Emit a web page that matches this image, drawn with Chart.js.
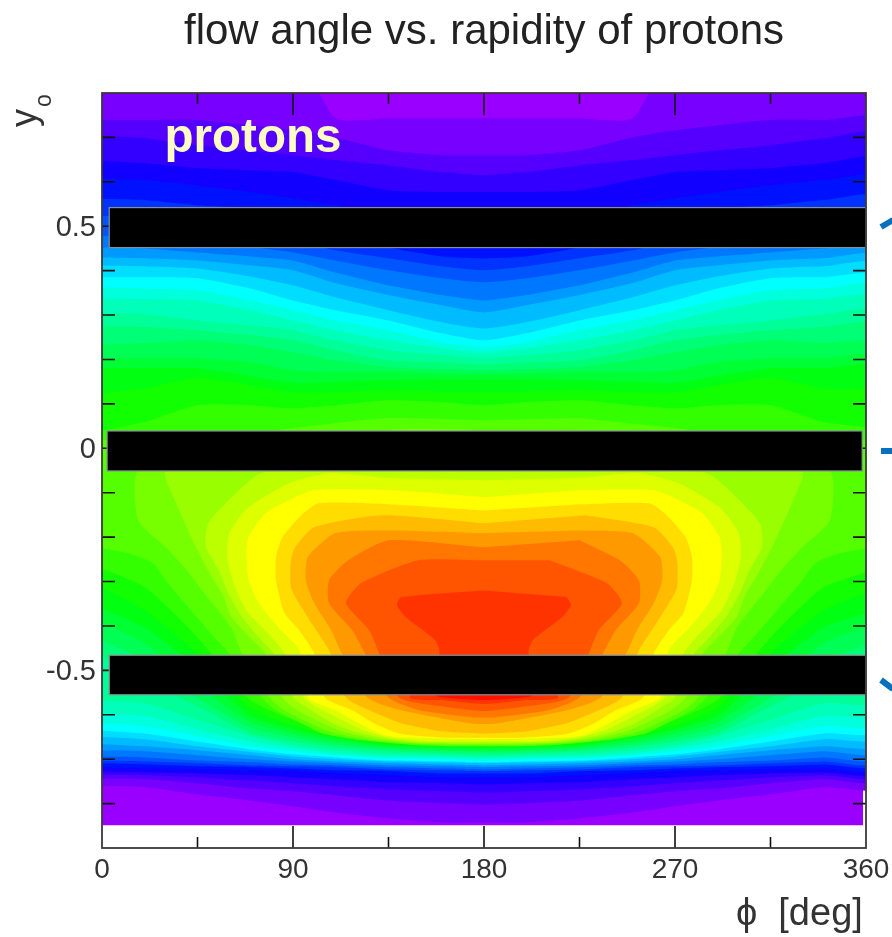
<!DOCTYPE html>
<html><head><meta charset="utf-8">
<style>html,body{margin:0;padding:0;background:#fff}canvas{display:block;filter:blur(0.6px)}</style>
<script src="https://cdn.jsdelivr.net/npm/chart.js@4"></script>
</head><body><canvas id="c" width="892" height="937"></canvas>
<script>
// Contour levels: y0 of the upper and lower edge of each "level >= n" region at phi (deg)
const phiCurve=[-10,20,45,70,90,110,135,160,180,200,225,250,270,290,315,340,370];
const upper01=[.829,.829,.829,.829,.9,.743,.743,.743,.743,.743,.743,.743,.9,.829,.829,.829,.829];
const lower01=[-.759,-.763,-.779,-.793,-.806,-.82,-.833,-.842,-.842,-.842,-.833,-.82,-.806,-.793,-.779,-.763,-.759];
const upper02=[.739,.739,.739,.727,.716,.7,.671,.66,.66,.66,.671,.7,.716,.727,.739,.739,.739];
const lower02=[-.743,-.745,-.754,-.766,-.772,-.781,-.793,-.799,-.802,-.799,-.793,-.781,-.772,-.766,-.754,-.745,-.743];
const upper03=[.705,.698,.682,.671,.66,.649,.637,.622,.615,.622,.637,.649,.66,.671,.682,.698,.705];
const lower03=[-.734,-.736,-.741,-.748,-.754,-.761,-.768,-.772,-.775,-.772,-.768,-.761,-.754,-.748,-.741,-.736,-.734];
const upper04=[.649,.642,.631,.626,.622,.604,.581,.577,.577,.577,.581,.604,.622,.626,.631,.642,.649];
const lower04=[-.727,-.73,-.732,-.736,-.741,-.745,-.752,-.754,-.757,-.754,-.752,-.745,-.741,-.736,-.732,-.73,-.727];
const upper05=[.608,.604,.592,.577,.563,.547,.525,.502,.48,.502,.525,.547,.563,.577,.592,.604,.608];
const lower05=[-.718,-.721,-.723,-.725,-.727,-.732,-.736,-.741,-.741,-.741,-.736,-.732,-.727,-.725,-.723,-.721,-.718];
const upper06=[.563,.559,.547,.541,.536,.502,.453,.432,.428,.432,.453,.502,.536,.541,.547,.559,.563];
const lower06=[-.709,-.712,-.716,-.718,-.721,-.725,-.727,-.732,-.732,-.732,-.727,-.725,-.721,-.718,-.716,-.712,-.709];
const upper07=[.525,.52,.514,.491,.468,.446,.428,.41,.401,.41,.428,.446,.468,.491,.514,.52,.525];
const lower07=[-.703,-.705,-.709,-.714,-.716,-.718,-.723,-.725,-.727,-.725,-.723,-.718,-.716,-.714,-.709,-.705,-.703];
const upper08=[.48,.475,.468,.453,.441,.423,.401,.383,.374,.383,.401,.423,.441,.453,.468,.475,.48];
const lower08=[-.694,-.696,-.703,-.707,-.712,-.714,-.718,-.721,-.723,-.721,-.718,-.714,-.712,-.707,-.703,-.696,-.694];
const upper09=[.453,.45,.441,.432,.423,.396,.367,.345,.333,.345,.367,.396,.423,.432,.441,.45,.453];
const lower09=[-.68,-.682,-.691,-.7,-.705,-.709,-.714,-.716,-.718,-.716,-.714,-.709,-.705,-.7,-.691,-.682,-.68];
const upper10=[.43,.428,.423,.412,.401,.372,.345,.322,.306,.322,.345,.372,.401,.412,.423,.428,.43];
const lower10=[-.664,-.671,-.68,-.691,-.7,-.705,-.709,-.712,-.714,-.712,-.709,-.705,-.7,-.691,-.68,-.671,-.664];
const upper11=[.412,.41,.405,.387,.367,.34,.311,.284,.27,.284,.311,.34,.367,.387,.405,.41,.412];
const lower11=[-.648,-.655,-.671,-.684,-.694,-.7,-.705,-.707,-.709,-.707,-.705,-.7,-.694,-.684,-.671,-.655,-.648];
const upper12=[.385,.385,.383,.36,.333,.311,.288,.259,.243,.259,.288,.311,.333,.36,.383,.385,.385];
const lower12=[-.633,-.642,-.66,-.678,-.689,-.696,-.703,-.705,-.707,-.705,-.703,-.696,-.689,-.678,-.66,-.642,-.633];
const upper13=[.363,.36,.356,.333,.311,.288,.266,.239,.228,.239,.266,.288,.311,.333,.356,.36,.363];
const lower13=[-.617,-.626,-.648,-.671,-.682,-.691,-.698,-.7,-.703,-.7,-.698,-.691,-.682,-.671,-.648,-.626,-.617];
const upper14=[.338,.336,.333,.311,.288,.266,.243,.225,.216,.225,.243,.266,.288,.311,.333,.336,.338];
const lower14=[-.594,-.603,-.633,-.66,-.675,-.687,-.694,-.696,-.698,-.696,-.694,-.687,-.675,-.66,-.633,-.603,-.594];
const upper15=[.306,.302,.288,.277,.266,.243,.221,.21,.203,.21,.221,.243,.266,.277,.288,.302,.306];
const lower15=[-.567,-.574,-.612,-.648,-.669,-.68,-.689,-.691,-.694,-.691,-.689,-.68,-.669,-.648,-.612,-.574,-.567];
const upper16=[.277,.273,.266,.255,.243,.221,.198,.194,.189,.194,.198,.221,.243,.255,.266,.273,.277];
const lower16=[-.443,-.522,-.581,-.642,-.66,-.673,-.682,-.687,-.689,-.687,-.682,-.673,-.66,-.642,-.581,-.522,-.443];
const upper17=[.232,.237,.243,.232,.216,.198,.183,.178,.176,.178,.183,.198,.216,.232,.243,.237,.232];
const lower17=[-.414,-.477,-.563,-.63,-.651,-.667,-.678,-.682,-.684,-.682,-.678,-.667,-.651,-.63,-.563,-.477,-.414];
const upper18=[.203,.203,.203,.194,.176,.171,.171,.169,.167,.169,.171,.171,.176,.194,.203,.203,.203];
const lower18=[-.369,-.439,-.534,-.617,-.642,-.66,-.673,-.678,-.68,-.678,-.673,-.66,-.642,-.617,-.534,-.439,-.369];
const upper19=[.18,.18,.18,.162,.147,.149,.153,.155,.155,.155,.153,.149,.147,.162,.18,.18,.18];
const lower19=[-.342,-.403,-.495,-.603,-.633,-.653,-.669,-.673,-.675,-.673,-.669,-.653,-.633,-.603,-.495,-.403,-.342];
const upper20=[.119,.135,.158,.142,.126,.126,.131,.128,.126,.128,.131,.126,.126,.142,.158,.135,.119];
const lower20=[-.29,-.365,-.462,-.585,-.624,-.648,-.664,-.67,-.671,-.67,-.664,-.648,-.624,-.585,-.462,-.365,-.29];
const upper21=[.029,.059,.097,.097,.09,.097,.108,.104,.097,.104,.108,.097,.09,.097,.097,.059,.029];
const lower21=[-.252,-.313,-.426,-.567,-.612,-.644,-.662,-.667,-.669,-.667,-.662,-.644,-.612,-.567,-.426,-.313,-.252];
// Closed contours of the central blob: phi and y0 of each vertex
const phi22=[180,135,90,45,-10,-10,12,24,31,42,53,60,75,82,94,104,122,150,180,210,238,256,266,278,285,300,307,318,329,336,348,370,370,315,270,225];
const y22=[.063,.068,.045,.018,.007,-.207,-.236,-.259,-.304,-.365,-.426,-.462,-.561,-.59,-.619,-.642,-.657,-.669,-.671,-.669,-.657,-.642,-.619,-.59,-.561,-.462,-.426,-.365,-.304,-.259,-.236,-.207,.007,.018,.045,.068];
const phi23=[180,135,90,60,17,17,30,40,49,61,66,79,86,97,108,126,150,180,210,234,252,263,274,281,294,299,311,320,330,343,343,300,270,225];
const y23=[.041,.041,-.016,-.045,-.052,-.162,-.223,-.275,-.331,-.405,-.462,-.561,-.59,-.617,-.639,-.657,-.666,-.669,-.666,-.657,-.639,-.617,-.59,-.561,-.462,-.405,-.331,-.275,-.223,-.162,-.052,-.045,-.016,.041];
const phi24=[180,135,100,60,30,35,42,50,57,61,71,77,85,92,103,113,130,150,180,210,230,247,257,268,275,283,289,299,303,310,318,325,330,300,260,225];
const y24=[-.004,.007,-.031,-.052,-.054,-.124,-.2,-.275,-.331,-.38,-.432,-.462,-.561,-.59,-.617,-.637,-.655,-.664,-.666,-.664,-.655,-.637,-.617,-.59,-.561,-.462,-.432,-.38,-.331,-.275,-.2,-.124,-.054,-.052,-.031,.007];
const phi25=[180,135,110,75,63,50,49,55,60,66,75,81,90,97,108,118,133,150,180,210,227,242,252,263,270,279,285,294,300,305,311,310,297,285,250,225];
const y25=[-.049,-.04,-.049,-.056,-.101,-.169,-.223,-.275,-.331,-.38,-.432,-.462,-.561,-.585,-.617,-.637,-.653,-.662,-.663,-.662,-.653,-.637,-.617,-.585,-.561,-.462,-.432,-.38,-.331,-.275,-.223,-.169,-.101,-.056,-.049,-.04];
const phi26=[180,135,107,88,69,60,59,62,68,80,86,95,102,113,123,135,155,180,205,225,237,247,258,265,274,280,292,298,301,300,291,272,253,225];
const y26=[-.072,-.067,-.056,-.079,-.133,-.191,-.245,-.304,-.365,-.426,-.462,-.561,-.585,-.612,-.635,-.651,-.66,-.66,-.66,-.651,-.635,-.612,-.585,-.561,-.462,-.426,-.365,-.304,-.245,-.191,-.133,-.079,-.056,-.067];
const phi27=[180,135,100,88,77,69,68,69,74,83,93,97,110,121,133,150,180,210,227,239,250,263,267,277,286,291,292,291,283,272,260,225];
const y27=[-.11,-.094,-.094,-.117,-.146,-.2,-.236,-.297,-.349,-.403,-.455,-.561,-.59,-.619,-.646,-.653,-.655,-.653,-.646,-.619,-.59,-.561,-.455,-.403,-.349,-.297,-.236,-.2,-.146,-.117,-.094,-.094];
const phi28=[180,135,102,93,85,82,82,86,93,100,105,118,128,140,160,180,200,220,232,242,255,260,267,274,278,278,275,267,258,225];
const y28=[-.14,-.126,-.124,-.155,-.2,-.245,-.297,-.371,-.41,-.462,-.561,-.59,-.619,-.642,-.651,-.652,-.651,-.642,-.619,-.59,-.561,-.462,-.41,-.371,-.297,-.245,-.2,-.155,-.124,-.126];
const phi29=[180,132,100,91,89,89,94,100,107,115,126,141,160,180,200,219,234,245,253,260,266,271,271,269,260,228];
const y29=[-.169,-.151,-.178,-.223,-.252,-.313,-.358,-.403,-.455,-.561,-.59,-.619,-.637,-.642,-.637,-.619,-.59,-.561,-.455,-.403,-.358,-.313,-.252,-.223,-.178,-.151];
const phi30=[180,135,110,97,96,100,108,113,125,141,173,180,187,219,235,247,252,260,264,263,250,225];
const y30=[-.191,-.185,-.191,-.245,-.297,-.349,-.41,-.462,-.561,-.59,-.619,-.621,-.619,-.59,-.561,-.462,-.41,-.349,-.297,-.245,-.191,-.185];
const phi31=[180,135,116,107,107,118,124,135,150,175,180,185,210,225,236,242,253,253,244,225];
const y31=[-.223,-.207,-.252,-.297,-.349,-.41,-.462,-.561,-.59,-.606,-.606,-.606,-.59,-.561,-.462,-.41,-.349,-.297,-.252,-.207];
const phi32=[180,149,122,115,126,130,140,160,180,200,220,230,234,245,238,211];
const y32=[-.252,-.252,-.304,-.349,-.41,-.455,-.561,-.581,-.592,-.581,-.561,-.455,-.41,-.349,-.304,-.252];
const phi33=[180,141,139,143,157,159,145,160,180,200,215,201,203,217,221,219];
const y33=[-.32,-.335,-.353,-.38,-.432,-.462,-.561,-.567,-.576,-.567,-.561,-.462,-.432,-.38,-.353,-.335];
const phi34=[180,157,157,170,180,190,203,203];
const y34=[-.489,-.511,-.556,-.565,-.567,-.565,-.556,-.511];
// Level 0 fills the whole picture area
const phi00=[0,358.6,358.6,0];
const y00=[.8,.8,-.849,-.849];

const upperCurves=[upper01,upper02,upper03,upper04,upper05,upper06,upper07,upper08,upper09,upper10,upper11,upper12,upper13,upper14,upper15,upper16,upper17,upper18,upper19,upper20,upper21];
const lowerCurves=[lower01,lower02,lower03,lower04,lower05,lower06,lower07,lower08,lower09,lower10,lower11,lower12,lower13,lower14,lower15,lower16,lower17,lower18,lower19,lower20,lower21];
const blobPhi=[phi22,phi23,phi24,phi25,phi26,phi27,phi28,phi29,phi30,phi31,phi32,phi33,phi34];
const blobY=[y22,y23,y24,y25,y26,y27,y28,y29,y30,y31,y32,y33,y34];
// axis ticks
const xLabelTicks=[0,90,180,270,360];
const xMinorTicks=[45,135,225,315];
const yLabelTicks=[0.5,0,-0.5];
const yMinorTicks=[0.7,0.6,0.4,0.3,0.2,0.1,-0.1,-0.2,-0.3,-0.4,-0.6,-0.7,-0.8];
// black bars: phi from, phi to, y top, y bottom
const blackBar1=[3.4,360,0.542,0.452];
const blackBar2=[2.4,358.2,0.039,-0.051];
const blackBar3=[3.4,359.8,-0.466,-0.555];

const levelColor=l=>`hsl(${276-8*l},100%,50%)`;
const area=(level,pts,tension)=>({
  label:'level '+level,data:pts,order:-level,showLine:true,fill:'shape',
  backgroundColor:levelColor(level),borderWidth:0,borderColor:'transparent',
  pointRadius:0,tension,capBezierPoints:false
});
const zip=(xs,ys)=>xs.map((x,i)=>({x,y:ys[i]}));
const datasets=[area(0,zip(phi00,y00),0)];
upperCurves.forEach((u,i)=>{
  const top=zip(phiCurve,u),bottom=zip(phiCurve,lowerCurves[i]).reverse();
  datasets.push(area(i+1,[...top,...bottom],0.2));
});
blobPhi.forEach((p,i)=>datasets.push(area(22+i,zip(p,blobY[i]),0.2)));

const decor={id:'decor',afterDatasetsDraw(ch){
  const c=ch.ctx,X=ch.scales.x,Y=ch.scales.y,a=ch.chartArea;
  c.save();
  c.strokeStyle='#111';c.lineWidth=1.6;c.beginPath();
  const xt=(v,len)=>{const p=X.getPixelForValue(v);c.moveTo(p,a.top);c.lineTo(p,a.top+len);c.moveTo(p,a.bottom);c.lineTo(p,a.bottom-len);};
  xLabelTicks.slice(1,-1).forEach(v=>xt(v,22));xMinorTicks.forEach(v=>xt(v,11));
  const yt=(v,len)=>{const p=Y.getPixelForValue(v);c.moveTo(a.left,p);c.lineTo(a.left+len,p);c.moveTo(a.right,p);c.lineTo(a.right-len,p);};
  yLabelTicks.forEach(v=>yt(v,22));yMinorTicks.forEach(v=>yt(v,13));
  c.stroke();
  [blackBar1,blackBar2,blackBar3].forEach(b=>{
    const x0=X.getPixelForValue(b[0]),x1=X.getPixelForValue(b[1]),y0=Y.getPixelForValue(b[2]),y1=Y.getPixelForValue(b[3]);
    c.fillStyle='#000';c.fillRect(x0,y0,x1-x0,y1-y0);
    c.strokeStyle='#8a9096';c.lineWidth=1.2;c.strokeRect(x0,y0,x1-x0,y1-y0);
  });
  c.strokeStyle='#3a3a3a';c.lineWidth=1.8;c.strokeRect(a.left,a.top,a.right-a.left,a.bottom-a.top);
  c.fillStyle='#fdfbc4';c.font='bold 47.5px "Liberation Sans"';c.textAlign='left';c.textBaseline='alphabetic';
  c.fillText('protons',X.getPixelForValue(29.5),Y.getPixelForValue(0.667));
  c.fillStyle='#333';c.translate(36,127);c.rotate(-Math.PI/2);
  c.font='36px "Liberation Sans"';c.fillText('y',0,0);
  c.font='23px "Liberation Sans"';c.fillText('o',20,15);
  c.restore();
  c.save();c.strokeStyle='#0a70bd';c.lineWidth=6;c.beginPath();
  c.moveTo(881,227);c.lineTo(893,220);c.moveTo(881,451);c.lineTo(893,451);c.moveTo(881,680);c.lineTo(893,689);c.stroke();c.restore();
}};

new Chart(document.getElementById('c'),{
  type:'scatter',
  data:{datasets},
  plugins:[decor],
  options:{
    responsive:false,animation:false,events:[],
    layout:{padding:{left:0,right:26,top:0,bottom:0}},
    plugins:{
      legend:{display:false},tooltip:{enabled:false},
      title:{display:true,fullSize:false,text:'flow angle vs. rapidity of protons',color:'#222',
        font:{family:'"Liberation Sans"',size:42,weight:'normal',lineHeight:1.2},padding:{top:7,bottom:35.6}}
    },
    scales:{
      x:{type:'linear',min:0,max:360,offset:false,grid:{display:false},border:{display:false},
        afterBuildTicks:s=>{s.ticks=xLabelTicks.map(v=>({value:v}));},
        afterFit:s=>{s.height=89;s.paddingLeft=0;s.paddingRight=0;},
        ticks:{color:'#333',padding:-3,maxRotation:0,autoSkip:false,font:{family:'"Liberation Sans"',size:28}},
        title:{display:true,text:'ϕ  [deg]\u200A',align:'end',color:'#333',font:{family:'"Liberation Sans"',size:38},padding:{top:0,bottom:0}}
      },
      y:{type:'linear',min:-0.9,max:0.8,grid:{display:false,drawTicks:false},border:{display:false},
        afterBuildTicks:s=>{s.ticks=yLabelTicks.map(v=>({value:v}));},
        afterFit:s=>{s.width=102;s.paddingTop=0;s.paddingBottom=0;},
        ticks:{color:'#333',padding:6,labelOffset:2,autoSkip:false,font:{family:'"Liberation Sans"',size:29},callback:v=>String(v)}
      }
    }
  }
});
</script></body></html>
